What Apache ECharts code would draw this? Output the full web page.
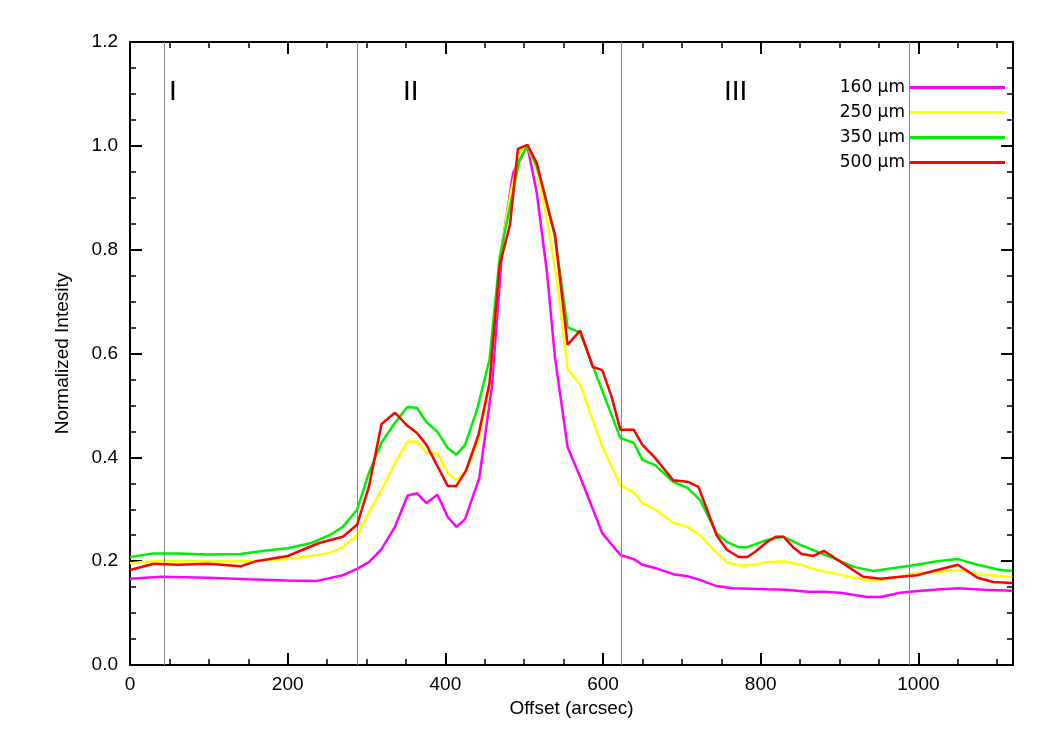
<!DOCTYPE html>
<html><head><meta charset="utf-8">
<script src="https://cdn.jsdelivr.net/npm/echarts@6/dist/echarts.min.js"></script>
<style>body{margin:0;background:#fff}#c{width:1050px;height:750px}</style></head>
<body><div id="c"></div>
<script>
const s160 = [[0,0.166],[40,0.17],[100,0.168],[150,0.165],[200,0.163],[237,0.162],[270,0.173],[288,0.185],[303,0.198],[319,0.223],[336,0.266],[352,0.326],[364,0.331],[376,0.312],[390,0.328],[403,0.285],[414,0.266],[425,0.281],[443,0.36],[459,0.536],[473,0.819],[486,0.948],[504,1.0],[516,0.909],[529,0.755],[539,0.593],[555,0.42],[571,0.362],[599,0.254],[622,0.212],[639,0.204],[650,0.193],[666,0.187],[689,0.175],[707,0.171],[723,0.164],[744,0.152],[765,0.148],[808,0.146],[833,0.145],[859,0.141],[880,0.141],[901,0.139],[935,0.131],[952,0.131],[977,0.139],[1003,0.143],[1028,0.146],[1051,0.148],[1083,0.145],[1119,0.143]];
const s250 = [[0,0.196],[30,0.2],[100,0.2],[150,0.2],[200,0.204],[230,0.21],[253,0.216],[270,0.227],[288,0.25],[303,0.293],[321,0.343],[336,0.389],[352,0.43],[364,0.43],[376,0.409],[390,0.407],[403,0.37],[414,0.356],[427,0.376],[442,0.434],[456,0.536],[469,0.78],[482,0.902],[494,0.988],[504,1.0],[516,0.954],[529,0.857],[542,0.736],[555,0.57],[571,0.54],[599,0.42],[622,0.347],[639,0.332],[650,0.312],[666,0.30],[689,0.274],[707,0.266],[723,0.25],[740,0.222],[757,0.198],[775,0.191],[791,0.193],[808,0.198],[829,0.2],[851,0.193],[872,0.183],[892,0.177],[918,0.168],[943,0.162],[969,0.168],[998,0.177],[1024,0.179],[1050,0.183],[1075,0.175],[1119,0.17]];
const s350 = [[0,0.208],[30,0.215],[60,0.215],[100,0.213],[140,0.214],[170,0.22],[200,0.225],[230,0.235],[253,0.25],[270,0.266],[288,0.299],[303,0.37],[319,0.428],[336,0.466],[352,0.497],[364,0.495],[376,0.468],[390,0.449],[403,0.418],[414,0.405],[425,0.424],[440,0.491],[456,0.588],[469,0.786],[482,0.882],[494,0.973],[504,1.0],[516,0.96],[527,0.902],[539,0.825],[555,0.651],[571,0.64],[622,0.437],[639,0.428],[650,0.395],[666,0.385],[689,0.353],[707,0.341],[723,0.318],[744,0.254],[757,0.237],[772,0.227],[783,0.227],[808,0.241],[829,0.247],[851,0.231],[872,0.218],[892,0.206],[918,0.189],[943,0.181],[969,0.187],[998,0.193],[1024,0.2],[1050,0.204],[1075,0.193],[1104,0.183],[1119,0.181]];
const s500 = [[0,0.183],[30,0.195],[60,0.193],[100,0.195],[140,0.19],[160,0.2],[200,0.21],[240,0.235],[270,0.247],[288,0.27],[303,0.343],[319,0.464],[336,0.486],[351,0.462],[364,0.447],[376,0.424],[403,0.345],[414,0.345],[426,0.374],[442,0.443],[456,0.543],[469,0.771],[482,0.848],[492,0.994],[504,1.002],[516,0.967],[529,0.886],[539,0.829],[555,0.617],[571,0.644],[587,0.574],[599,0.568],[611,0.516],[622,0.453],[639,0.453],[650,0.424],[666,0.399],[689,0.356],[707,0.353],[721,0.343],[732,0.299],[744,0.25],[757,0.222],[772,0.208],[783,0.208],[793,0.218],[808,0.237],[819,0.247],[829,0.247],[841,0.227],[852,0.214],[867,0.21],[880,0.22],[892,0.208],[913,0.187],[930,0.17],[952,0.166],[977,0.17],[998,0.173],[1024,0.183],[1050,0.193],[1075,0.168],[1095,0.16],[1119,0.158]];
const regionLines = [44, 288, 623, 988];
const regionLabels = [['I',177],['II',411],['III',732]];
const names = ['160 \u03bcm','250 \u03bcm','350 \u03bcm','500 \u03bcm'];
const colors = ['#ff00ff','#ffff00','#00ee00','#ff0000'];

const chart = echarts.init(document.getElementById('c'));
const ff = 'Liberation Sans';
const axLine = {show:true, onZero:false, lineStyle:{color:'#000', width:2}};
const xBase = {type:'value', min:0, max:1120, interval:200, axisLine:axLine,
  axisTick:{inside:true, length:12, lineStyle:{color:'#000',width:2}},
  minorTick:{show:true, splitNumber:4, length:6, lineStyle:{color:'#000',width:1.5}},
  splitLine:{show:false}};
const yBase = {type:'value', min:0, max:1.2, interval:0.2, axisLine:axLine,
  axisTick:{inside:true, length:12, lineStyle:{color:'#000',width:2}},
  minorTick:{show:true, splitNumber:4, length:6, lineStyle:{color:'#000',width:1.5}},
  splitLine:{show:false}};
const data = [s160, s250, s350, s500];
const series = data.map((d,i)=>({name:names[i], type:'line', data:d, showSymbol:false, symbol:'none',
  lineStyle:{color:colors[i], width:2.5}, itemStyle:{color:colors[i]}, z:3+i}));
series[0].markLine = {silent:true, symbol:'none', label:{show:false},
  lineStyle:{color:'#888', width:1, type:'solid'}, data:regionLines.map(v=>({xAxis:v}))};
chart.setOption({
  animation:false,
  textStyle:{fontFamily:ff},
  grid:{left:130, right:37, top:42, bottom:85},
  xAxis:[Object.assign({}, xBase, {position:'bottom', name:'Offset (arcsec)', nameLocation:'middle', nameGap:33,
      nameTextStyle:{fontSize:19, color:'#000', fontFamily:ff},
      axisLabel:{fontSize:19, color:'#000', margin:10, formatter:v=>v>1100?'':String(v)}}),
    Object.assign({}, xBase, {position:'top', axisLabel:{show:false}})],
  yAxis:[Object.assign({}, yBase, {position:'left', name:'Normalized Intesity', nameLocation:'middle', nameGap:58,
      nameTextStyle:{fontSize:19, color:'#000', fontFamily:ff},
      axisLabel:{fontSize:19, color:'#000', margin:12, formatter:v=>v.toFixed(1)}}),
    Object.assign({}, yBase, {position:'right', axisLabel:{show:false}})],
  legend:{orient:'vertical', right:40, top:74, align:'right', itemWidth:95, itemHeight:3, itemGap:8,
    icon:'rect', textStyle:{fontSize:17, color:'#000', fontFamily:'DejaVu Sans'}, data:names},
  graphic: regionLabels.map(r=>({type:'text', left:r[1]-8, top:78,
    style:{text:r[0], font:'28px "Liberation Sans"', fill:'#000'}})),
  series
});
</script></body></html>
